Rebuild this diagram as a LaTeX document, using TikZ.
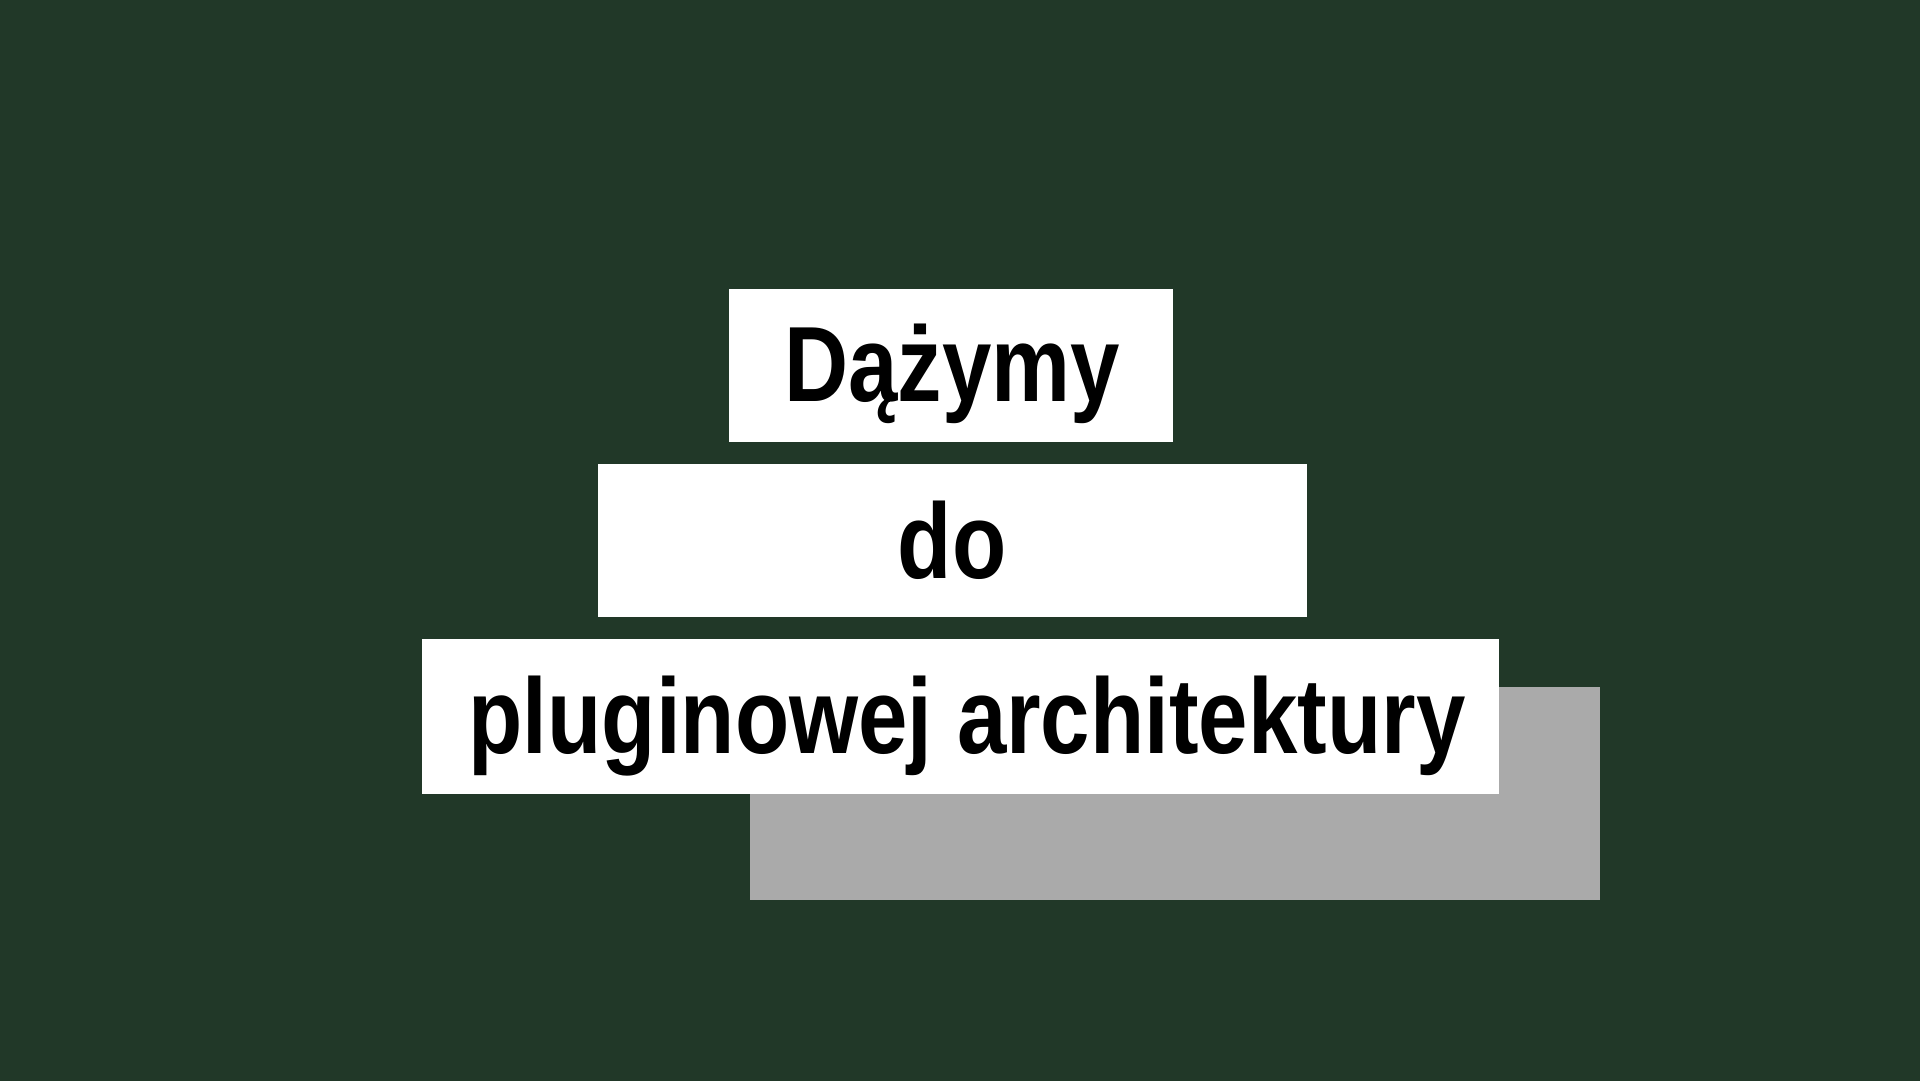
\documentclass[tikz,border=0pt]{standalone}
\usepackage{fontspec}
\setmainfont[FakeStretch=0.83]{Liberation Sans}
\definecolor{bgcol}{HTML}{213828}
\definecolor{shadow}{HTML}{AAAAAA}
\tikzset{
  panel/.style={fill=white, draw=none, inner sep=0pt, outer sep=0pt, anchor=north west},
  label/.style={anchor=base, inner sep=0pt, text=black, font=\fontsize{107}{107}\selectfont\bfseries},
}
\begin{document}
\begin{tikzpicture}[x=1pt,y=-1pt]
\useasboundingbox (0,0) rectangle (1920,1080);
\fill[bgcol] (-4,-4) rectangle (1924,1084);
\node[panel, fill=shadow, minimum width=850pt, minimum height=213pt] (gray) at (749.5,687) {};
\node[panel, minimum width=444.5pt, minimum height=153pt] (box1) at (728.6,289) {};
\node[panel, minimum width=709pt, minimum height=153pt] (box2) at (597.6,464) {};
\node[panel, minimum width=1076.4pt, minimum height=154.5pt] (box3) at (422.4,639) {};
\node[label] (t1) at (952,401) {Dążymy};
\node[label] (t2) at (952,578) {do};
\node[label] (t3) at (967,753) {pluginowej architektury};
\end{tikzpicture}
\end{document}
